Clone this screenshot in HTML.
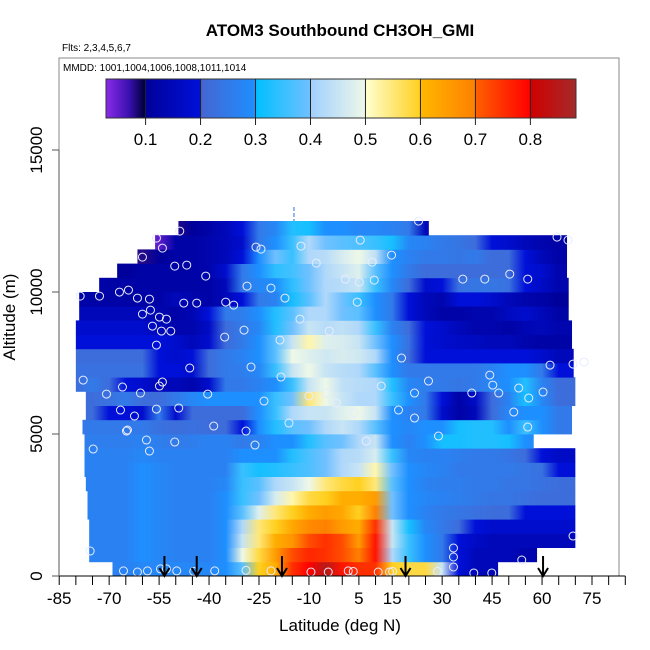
<!DOCTYPE html>
<html><head><meta charset="utf-8"><style>
html,body{margin:0;padding:0;background:#fff;}
svg{display:block;font-family:"Liberation Sans",Arial,sans-serif;}
</style></head><body>
<svg id="chart" width="650" height="650" viewBox="0 0 650 650" xmlns="http://www.w3.org/2000/svg">
<defs id="defs"></defs>
<text x="340" y="36" text-anchor="middle" font-size="17" font-weight="bold">ATOM3 Southbound CH3OH_GMI</text>
<text x="62" y="51" font-size="10">Flts: 2,3,4,5,6,7</text>
<g id="heat"></g>
<g id="pts"></g>
<g id="arrows"></g>
<rect x="59" y="58" width="560" height="518" fill="none" stroke="#888" stroke-width="1"/>
<text x="63" y="71" font-size="10">MMDD: 1001,1004,1006,1008,1011,1014</text>
<g id="cbar"></g>
<g id="axes"></g>
<text x="340" y="631" text-anchor="middle" font-size="17">Latitude (deg N)</text>
<text transform="translate(15,317) rotate(-90)" text-anchor="middle" font-size="17">Altitude (m)</text>
</svg>
<script>
const colLats=[-80,-75,-70,-65,-60,-55,-50,-45,-40,-35,-30,-25,-20,-15,-10,-5,0,5,10,15,20,25,30,35,40,45,50,55,60,65,70];
const rowAlts=[0,500,1000,1500,2000,2500,3000,3500,4000,4500,5000,5500,6000,6500,7000,7500,8000,8500,9000,9500,10000,10500,11000,11500,12000];
const rowStart=[-69,-76,-76,-76,-76.5,-76.5,-77,-77.4,-77.4,-77.4,-78,-77,-77,-80,-80,-80,-80,-80,-79,-79,-73,-67.6,-61.5,-56.2,-49.2];
const rowEnd=[46.8,58.5,70,70,70,70,70,70,70,57.5,69,69,70,70,69.5,69.5,69,69,68,68,68,67.5,67.5,67.5,26];
const rowVals=[
[0.27,0.27,0.27,0.27,0.28,0.28,0.28,0.28,0.28,0.3,0.38,0.6,0.62,0.75,0.8,0.85,0.78,0.75,0.75,0.6,0.58,0.58,0.45,0.2,0.15,0.15,0.15,0.15,0.15,0.15,0.15],
[0.27,0.27,0.27,0.27,0.3,0.28,0.27,0.27,0.27,0.3,0.5,0.58,0.65,0.72,0.76,0.75,0.72,0.7,0.78,0.42,0.35,0.3,0.25,0.2,0.15,0.15,0.15,0.13,0.13,0.13,0.13],
[0.27,0.27,0.27,0.27,0.3,0.28,0.27,0.27,0.27,0.3,0.45,0.55,0.62,0.66,0.72,0.75,0.72,0.65,0.78,0.45,0.35,0.3,0.25,0.2,0.17,0.15,0.15,0.15,0.15,0.15,0.15],
[0.27,0.27,0.27,0.27,0.3,0.28,0.27,0.27,0.27,0.3,0.42,0.55,0.6,0.63,0.68,0.7,0.65,0.62,0.75,0.45,0.32,0.28,0.25,0.22,0.2,0.18,0.18,0.18,0.18,0.18,0.18],
[0.27,0.27,0.27,0.27,0.3,0.28,0.27,0.27,0.27,0.3,0.38,0.48,0.55,0.6,0.62,0.65,0.63,0.6,0.7,0.4,0.3,0.27,0.25,0.24,0.23,0.22,0.22,0.2,0.2,0.2,0.2],
[0.27,0.27,0.27,0.27,0.3,0.28,0.27,0.27,0.27,0.3,0.35,0.4,0.47,0.52,0.58,0.6,0.62,0.62,0.65,0.4,0.3,0.28,0.27,0.26,0.25,0.24,0.24,0.23,0.22,0.22,0.22],
[0.27,0.27,0.27,0.27,0.3,0.28,0.27,0.27,0.27,0.28,0.35,0.38,0.42,0.45,0.5,0.55,0.58,0.6,0.55,0.38,0.3,0.27,0.26,0.26,0.25,0.25,0.24,0.24,0.23,0.22,0.22],
[0.27,0.27,0.27,0.27,0.3,0.28,0.27,0.27,0.27,0.27,0.35,0.32,0.33,0.35,0.37,0.4,0.42,0.45,0.52,0.4,0.3,0.28,0.27,0.25,0.25,0.25,0.25,0.24,0.23,0.2,0.2],
[0.27,0.27,0.27,0.27,0.28,0.27,0.27,0.27,0.27,0.27,0.3,0.3,0.3,0.33,0.37,0.4,0.42,0.43,0.47,0.35,0.28,0.27,0.27,0.26,0.25,0.25,0.24,0.22,0.2,0.17,0.17],
[0.26,0.26,0.26,0.26,0.27,0.26,0.25,0.26,0.27,0.27,0.25,0.27,0.3,0.3,0.33,0.38,0.4,0.42,0.45,0.3,0.27,0.3,0.32,0.32,0.33,0.33,0.32,0.3,0.28,0.28,0.28],
[0.25,0.25,0.25,0.25,0.25,0.23,0.22,0.23,0.22,0.22,0.2,0.3,0.33,0.38,0.4,0.42,0.45,0.42,0.38,0.3,0.28,0.3,0.3,0.32,0.33,0.33,0.3,0.35,0.3,0.25,0.25],
[0.22,0.22,0.2,0.2,0.18,0.25,0.18,0.22,0.22,0.22,0.22,0.3,0.35,0.42,0.45,0.45,0.48,0.5,0.45,0.3,0.27,0.25,0.18,0.12,0.15,0.22,0.28,0.3,0.3,0.25,0.25],
[0.22,0.22,0.23,0.25,0.22,0.22,0.25,0.28,0.3,0.3,0.3,0.3,0.35,0.4,0.55,0.5,0.45,0.42,0.42,0.35,0.3,0.25,0.2,0.12,0.17,0.22,0.27,0.32,0.28,0.22,0.22],
[0.22,0.25,0.22,0.2,0.18,0.15,0.15,0.13,0.18,0.25,0.25,0.27,0.3,0.35,0.45,0.5,0.44,0.43,0.42,0.33,0.28,0.26,0.25,0.24,0.25,0.28,0.3,0.33,0.27,0.22,0.22],
[0.23,0.23,0.23,0.23,0.23,0.2,0.2,0.18,0.22,0.25,0.26,0.28,0.35,0.45,0.5,0.45,0.43,0.42,0.38,0.3,0.25,0.25,0.25,0.25,0.25,0.27,0.3,0.3,0.25,0.2,0.2],
[0.22,0.22,0.22,0.22,0.22,0.2,0.18,0.2,0.22,0.25,0.27,0.3,0.38,0.5,0.48,0.46,0.47,0.46,0.42,0.3,0.22,0.2,0.2,0.2,0.2,0.2,0.2,0.2,0.18,0.15,0.15],
[0.2,0.2,0.2,0.2,0.2,0.2,0.18,0.15,0.18,0.22,0.25,0.3,0.38,0.45,0.52,0.48,0.47,0.45,0.4,0.3,0.23,0.2,0.18,0.17,0.16,0.15,0.15,0.13,0.12,0.12,0.12],
[0.18,0.18,0.18,0.18,0.18,0.15,0.13,0.13,0.17,0.22,0.25,0.28,0.33,0.4,0.45,0.43,0.44,0.42,0.35,0.27,0.22,0.2,0.18,0.15,0.13,0.13,0.12,0.14,0.15,0.13,0.13],
[0.15,0.15,0.15,0.15,0.15,0.13,0.12,0.14,0.2,0.25,0.26,0.3,0.33,0.38,0.42,0.42,0.4,0.38,0.3,0.25,0.2,0.15,0.12,0.12,0.13,0.13,0.16,0.18,0.15,0.12,0.12],
[0.12,0.12,0.12,0.12,0.12,0.12,0.15,0.13,0.12,0.15,0.2,0.25,0.27,0.32,0.38,0.42,0.4,0.35,0.3,0.25,0.2,0.15,0.13,0.2,0.2,0.18,0.15,0.13,0.12,0.1,0.1],
[0.12,0.12,0.12,0.12,0.12,0.12,0.12,0.12,0.12,0.15,0.25,0.28,0.3,0.34,0.4,0.42,0.43,0.45,0.35,0.28,0.22,0.18,0.2,0.23,0.24,0.24,0.23,0.2,0.17,0.13,0.13],
[0.1,0.1,0.1,0.1,0.12,0.12,0.12,0.12,0.13,0.18,0.25,0.3,0.34,0.36,0.4,0.42,0.45,0.48,0.38,0.3,0.25,0.22,0.22,0.22,0.22,0.22,0.22,0.2,0.18,0.13,0.13],
[0.08,0.08,0.08,0.08,0.08,0.1,0.12,0.12,0.13,0.15,0.2,0.3,0.4,0.35,0.42,0.43,0.47,0.5,0.44,0.3,0.27,0.25,0.25,0.24,0.25,0.22,0.22,0.2,0.15,0.12,0.12],
[0.05,0.05,0.05,0.05,0.05,0.05,0.12,0.12,0.13,0.15,0.18,0.25,0.3,0.35,0.42,0.4,0.38,0.37,0.35,0.32,0.28,0.27,0.25,0.24,0.22,0.2,0.18,0.15,0.13,0.12,0.12],
[0.08,0.08,0.08,0.08,0.08,0.08,0.08,0.1,0.12,0.15,0.2,0.25,0.28,0.33,0.32,0.3,0.3,0.28,0.28,0.27,0.25,0.15,0.15,0.15,0.15,0.15,0.15,0.15,0.15,0.15,0.15]
];
const ptLat=[-48.8,-55.8,-54,-60,-50.3,-46.7,-41,-35,-78.7,-72.9,-66.9,-64.2,-61.5,-57.9,-60,-57.6,-54.9,-57,-52.8,-54.3,-55.8,-51.5,-24.4,-12.4,-25.9,-21.4,-28.6,-47.6,-43.7,-32.6,-17.2,14.8,9,9.6,-7.8,0.9,5.4,22.9,36.2,42.8,55.7,50.3,64.5,67.8,5.1,4.5,-35.3,-29.5,-18.7,-12.7,-3.9,17.8,11.7,-4.8,21.7,25.9,38.9,47,53,62.4,69.3,-77.8,-70.8,-66,-60.6,-54,-55.8,-49.1,-62.4,-58.8,-50.3,-64.5,-54.9,-45.8,-40.4,-27.4,-23.5,-18.4,-16,-38.6,-28.9,-26.2,-10,-1.8,3.6,7.2,16.9,21.7,28.9,44.3,45.2,51.5,60.3,72.6,56,-66.6,-64.8,-57.9,-74.8,55.7,69.3,-75.7,33.4,33.4,33.4,39.5,44.9,53.9,-65.7,-61.5,-58.5,-54.6,-52.8,-49.7,-44.6,-38.3,-28.9,-21.4,-9.4,-4.2,1.8,3.3,10.8,14.2,15.1,28.6];
const ptAlt=[12144,11898,11546,11229,10912,10947,10560,9645,9856,9856,9997,10067,9786,9750,9222,9363,9117,8800,9046,8624,8131,8624,11510,11616,11581,10138,10208,9610,9610,9539,9786,11299,11053,10419,11018,10454,11827,12496,10454,10454,10454,10630,11933,11827,10349,9645,8413,8659,8307,9046,8624,7674,6688,6442,6442,6864,6442,6442,6618,7427,7462,6899,6406,6653,6442,6829,5878,5914,5632,4787,4717,5139,6688,7322,6406,7357,6160,7005,5386,5280,5104,4611,6336,6090,5738,4752,5843,5562,4928,7075,6723,5773,6477,7533,6266,5843,5104,4400,4470,5245,1408,880,986,669,317,106,106,563,180,140,180,250,250,180,160,180,200,180,140,140,180,160,140,140,160,160];
const arrowLats=[-53.4,-43.7,-18.1,19,60.3];
const xTicks=[-85,-70,-55,-40,-25,-10,5,15,30,45,60,75];
const yTicks=[0,5000,10000,15000];
const cbTicks=[0.1,0.2,0.3,0.4,0.5,0.6,0.7,0.8];

const NS="http://www.w3.org/2000/svg";
const X=lat=>59.2+(lat+85)*3.33;
const Y=alt=>576-alt*0.0284;
const cmapStops=[[0.028,"#8a2be8"],[0.07,"#3a10b0"],[0.097,"#000040"],[0.1,"#00009a"],[0.2,"#0010d8"],[0.2,"#4565d2"],[0.3,"#1e8fff"],[0.3,"#00bfff"],[0.4,"#70c0ff"],[0.4,"#a0d0ff"],[0.5,"#eef8e8"],[0.5,"#ffffd0"],[0.6,"#ffd020"],[0.6,"#ffb800"],[0.7,"#ff8000"],[0.7,"#ff6000"],[0.8,"#ff0000"],[0.8,"#d00000"],[0.885,"#a52a2a"]];
function hex(h){return [1,3,5].map(i=>parseInt(h.substr(i,2),16));}
function cmap(v){
  if(v<=cmapStops[0][0])return cmapStops[0][1];
  for(let i=1;i<cmapStops.length;i++){
    const a=cmapStops[i-1],b=cmapStops[i];
    if(v<=b[0]&&b[0]>a[0]){const t=(v-a[0])/(b[0]-a[0]);const c1=hex(a[1]),c2=hex(b[1]);
      return "rgb("+c1.map((c,k)=>Math.round(c+(c2[k]-c)*t)).join(",")+")";}
  }
  return cmapStops[cmapStops.length-1][1];
}
function mk(tag,attrs,parent){const e=document.createElementNS(NS,tag);for(const k in attrs)e.setAttribute(k,attrs[k]);parent.appendChild(e);return e;}
const defs=document.getElementById('defs');
const heat=document.getElementById('heat');
rowAlts.forEach((alt,r)=>{
  const x0=X(rowStart[r]),x1=X(rowEnd[r]);
  const g=mk('linearGradient',{id:'rg'+r,gradientUnits:'userSpaceOnUse',x1:X(colLats[0]),x2:X(colLats[colLats.length-1]),y1:0,y2:0},defs);
  colLats.forEach((lat,i)=>{
    mk('stop',{offset:(i/(colLats.length-1)).toFixed(4),'stop-color':cmap(rowVals[r][i])},g);
  });
  const rc=mk('rect',{x:x0,y:Y(alt+500),width:x1-x0,height:Y(alt)-Y(alt+500)+0.4,fill:'url(#rg'+r+')'},heat);
  
  
});
const mark=mk('line',{x1:X(-14.5),x2:X(-14.5),y1:207,y2:221,stroke:'#2a6fe0','stroke-width':1,'stroke-dasharray':'4,2'},heat);


const pts=document.getElementById('pts');
ptLat.forEach((lat,i)=>{
  const c=mk('circle',{cx:X(lat),cy:Y(ptAlt[i]),r:4,fill:'none',stroke:'#e8ecff','stroke-width':1},pts);
  
  
});
const arrows=document.getElementById('arrows');
arrowLats.forEach(lat=>{
  const x=X(lat);
  const g=mk('g',{},arrows);
  
  
  mk('line',{x1:x,x2:x,y1:556,y2:575,stroke:'#000','stroke-width':2},g);
  mk('polyline',{points:(x-5)+',568 '+x+',576 '+(x+5)+',568',fill:'none',stroke:'#000','stroke-width':2},g);
});
// colorbar
const cb=document.getElementById('cbar');
const CB0=106,CB1=576,cbV0=0.028,cbV1=0.883;
const CX=v=>CB0+(v-cbV0)/(cbV1-cbV0)*(CB1-CB0);
const cg=mk('linearGradient',{id:'cbg',gradientUnits:'userSpaceOnUse',x1:CB0,x2:CB1,y1:0,y2:0},defs);
cmapStops.forEach(s=>{mk('stop',{offset:((CX(s[0])-CB0)/(CB1-CB0)).toFixed(4),'stop-color':s[1]},cg);});
const cbr=mk('rect',{x:CB0,y:79,width:CB1-CB0,height:39,fill:'url(#cbg)',stroke:'#333','stroke-width':1},cb);


cbTicks.forEach(v=>{
  const x=CX(v);
  mk('line',{x1:x,x2:x,y1:79,y2:125,stroke:'#222','stroke-width':1},cb);
  const t=mk('text',{x:x,y:145,'text-anchor':'middle','font-size':17},cb);
  t.textContent=v.toFixed(1);
  
  
});
// axes
const ax=document.getElementById('axes');
mk('line',{x1:X(-85),x2:X(85),y1:576,y2:576,stroke:'#000','stroke-width':1},ax);
for(let l=-85;l<=85;l+=5){mk('line',{x1:X(l),x2:X(l),y1:576,y2:585,stroke:'#000','stroke-width':1},ax);}
xTicks.forEach(l=>{
  const t=mk('text',{x:X(l),y:604,'text-anchor':'middle','font-size':17},ax);
  t.textContent=l;
  
  
});
mk('line',{x1:59,x2:59,y1:Y(0),y2:Y(15000),stroke:'#555','stroke-width':1},ax);
yTicks.forEach(a=>{
  const y=Y(a);
  mk('line',{x1:52,x2:59,y1:y,y2:y,stroke:'#555','stroke-width':1},ax);
  const t=mk('text',{transform:'translate(42,'+y+') rotate(-90)','text-anchor':'middle','font-size':17},ax);
  t.textContent=a;
  
  
});
</script>
</body></html>
